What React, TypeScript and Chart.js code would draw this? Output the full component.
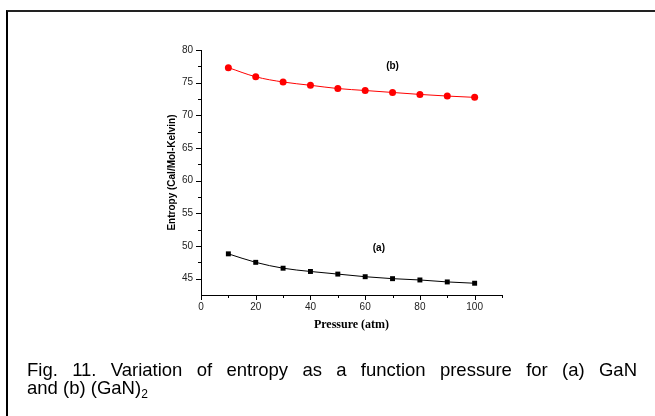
import React, { useEffect, useRef } from "react";
import { Chart, registerables } from "chart.js";

Chart.register(...registerables);

const pressure = [10, 20, 30, 40, 50, 60, 70, 80, 90, 100];
const entropyGaN = [48.8, 47.5, 46.6, 46.1, 45.7, 45.3, 45.0, 44.8, 44.5, 44.3];
const entropyGaN2 = [77.3, 75.9, 75.1, 74.6, 74.1, 73.8, 73.5, 73.2, 72.95, 72.75];

const xTicks = [0, 20, 40, 60, 80, 100];
const xMinorTicks = [10, 30, 50, 70, 90, 110];
const yTicks = [45, 50, 55, 60, 65, 70, 75, 80];
const yMinorTicks = [47.5, 52.5, 57.5, 62.5, 67.5, 72.5, 77.5];

const annotationLabels = ["(a)", "(b)"];
const annotationX = [65, 70];
const annotationY = [49.6, 77.5];

const tickPlugin = {
  id: "ticksAndNotes",
  afterDraw(chart: any) {
    const ctx = chart.ctx;
    const xs = chart.scales.x;
    const ys = chart.scales.y;
    ctx.save();
    ctx.strokeStyle = "#000";
    ctx.lineWidth = 1;
    ctx.beginPath();
    const drawX = (v: number, len: number) => {
      const px = Math.round(xs.getPixelForValue(v)) + 0.5;
      ctx.moveTo(px, ys.bottom);
      ctx.lineTo(px, ys.bottom + len);
    };
    const drawY = (v: number, len: number) => {
      const py = Math.round(ys.getPixelForValue(v)) + 0.5;
      ctx.moveTo(xs.left, py);
      ctx.lineTo(xs.left - len, py);
    };
    xTicks.forEach((v) => drawX(v, 5));
    xMinorTicks.forEach((v) => drawX(v, 3));
    yTicks.forEach((v) => drawY(v, 5));
    yMinorTicks.forEach((v) => drawY(v, 3));
    ctx.stroke();
    ctx.fillStyle = "#000";
    ctx.font = "bold 10px 'Liberation Sans', Arial, sans-serif";
    ctx.textAlign = "center";
    ctx.textBaseline = "middle";
    annotationLabels.forEach((t, i) => {
      ctx.fillText(t, xs.getPixelForValue(annotationX[i]), ys.getPixelForValue(annotationY[i]));
    });
    ctx.restore();
  },
};

export default function App() {
  const ref = useRef<HTMLCanvasElement | null>(null);
  useEffect(() => {
    if (!ref.current) return;
    const chart = new Chart(ref.current, {
      type: "line",
      data: {
        datasets: [
          {
            label: "(a) GaN",
            data: pressure.map((p, i) => ({ x: p, y: entropyGaN[i] })),
            borderColor: "#000",
            backgroundColor: "#000",
            borderWidth: 1,
            pointStyle: "rect",
            pointRadius: 3.5,
            pointBorderWidth: 0,
            cubicInterpolationMode: "monotone",
          },
          {
            label: "(b) (GaN)2",
            data: pressure.map((p, i) => ({ x: p, y: entropyGaN2[i] })),
            borderColor: "#ff0000",
            backgroundColor: "#ff0000",
            borderWidth: 1,
            pointStyle: "circle",
            pointRadius: 3.5,
            pointBorderWidth: 0,
            cubicInterpolationMode: "monotone",
          },
        ],
      },
      options: {
        animation: false,
        responsive: false,
        maintainAspectRatio: false,
        layout: { padding: { left: 150, top: 50, right: 153, bottom: 84 } },
        plugins: { legend: { display: false }, tooltip: { enabled: false } },
        scales: {
          x: {
            type: "linear",
            min: 0,
            max: 110,
            afterFit: (s: any) => {
              s.height = 37;
            },
            afterBuildTicks: (s: any) => {
              s.ticks = xTicks.map((v) => ({ value: v }));
            },
            grid: { display: false, drawTicks: false, tickLength: 0 },
            border: { display: true, color: "#000", width: 1 },
            ticks: {
              padding: 6,
              color: "#222",
              font: { size: 10, family: "'Liberation Sans', Arial, sans-serif" },
              maxRotation: 0,
            },
            title: {
              display: true,
              text: "Pressure (atm)",
              color: "#000",
              font: { size: 12, weight: "bold", family: "'Liberation Serif', 'Times New Roman', serif" },
              padding: { top: 1, bottom: 0 },
            },
          },
          y: {
            type: "linear",
            min: 42.5,
            max: 80,
            afterFit: (s: any) => {
              s.width = 51;
            },
            afterBuildTicks: (s: any) => {
              s.ticks = yTicks.map((v) => ({ value: v }));
            },
            grid: { display: false, drawTicks: false, tickLength: 0 },
            border: { display: true, color: "#000", width: 1 },
            ticks: {
              padding: 8,
              color: "#222",
              font: { size: 10, family: "'Liberation Sans', Arial, sans-serif" },
            },
            title: {
              display: true,
              text: "Entropy (Cal/Mol-Kelvin)",
              color: "#000",
              font: { size: 10, weight: "bold", family: "'Liberation Sans', Arial, sans-serif" },
              padding: { top: 16, bottom: 0 },
            },
          },
        },
      },
      plugins: [tickPlugin],
    } as any);
    return () => chart.destroy();
  }, []);

  return (
    <div style={{ position: "absolute", left: 0, top: 0, width: 655, height: 416, background: "#fff", overflow: "hidden" }}>
      <div
        style={{
          position: "absolute",
          left: 6,
          top: 10,
          width: 660,
          height: 420,
          borderTop: "2px solid #222",
          borderLeft: "2px solid #000",
        }}
      />
      <canvas ref={ref} width={655} height={416} style={{ position: "absolute", left: 0, top: 0 }} />
      <div
        style={{
          position: "absolute",
          left: 27,
          top: 361,
          width: 610,
          fontFamily: "'Liberation Sans', Arial, sans-serif",
          fontSize: 18.5,
          lineHeight: "18px",
          color: "#000",
        }}
      >
        <div style={{ textAlign: "justify", textAlignLast: "justify", whiteSpace: "nowrap" } as any}>
          Fig. 11. Variation of entropy as a function pressure for (a) GaN
        </div>
        <div style={{ whiteSpace: "nowrap" }}>
          and (b) (GaN)<sub style={{ fontSize: 12, verticalAlign: "-4px", lineHeight: 0 }}>2</sub>
        </div>
      </div>
    </div>
  );
}
